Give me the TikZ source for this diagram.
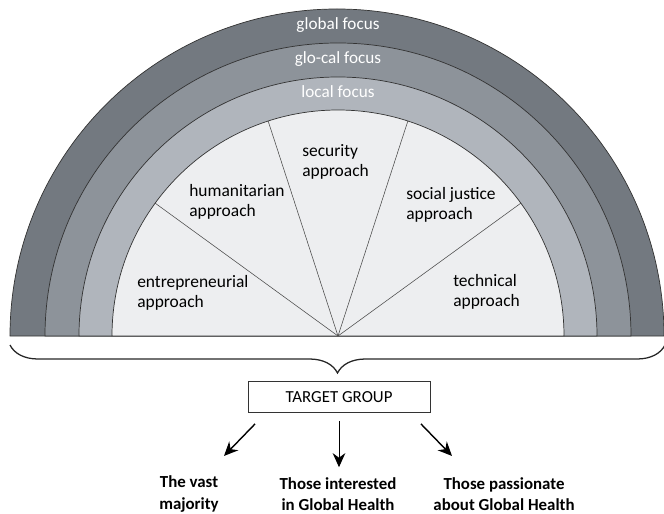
\documentclass[tikz,border=0pt]{standalone}
\usepackage{fontspec}
\setmainfont{Carlito}
\usetikzlibrary{
arrows.meta,
calc,
decorations.pathreplacing,
positioning
}
\definecolor{ringglobal}{RGB}{115,121,128}
\definecolor{ringglocal}{RGB}{141,147,154}
\definecolor{ringlocal}{RGB}{176,181,188}
\definecolor{ringinner}{RGB}{237,238,240}
\tikzset{
ring/.style={draw=black!80, line width=0.5pt},
ringlabel/.style={text=white, font=\fontsize{12.2}{14}\selectfont, inner sep=0pt}
}

\begin{document}
\begin{tikzpicture}
[x=0.025cm, y=0.025cm,
approach/.style ={align=left, anchor=west, inner sep=0pt, text=black, font=\fontsize{12.4}{14.4}\selectfont},
group/.style ={rectangle, draw=black!80, line width=0.5pt, minimum width=4.55cm, minimum height=0.78cm, font=\fontsize{12}{14}\selectfont},
audience/.style ={align=center, inner sep=0pt, font=\bfseries\fontsize{12}{15}\selectfont},
spoke/.style ={draw=black!70, line width=0.4pt},
pfeil/.style ={draw, line width=1pt, -{Stealth[length=10pt,width=9pt]}}]

\useasboundingbox (-338,-177) rectangle (326,336);

%Ringe
\draw [ring, fill=ringglobal] (-328,0) arc[start angle=180, end angle=0, radius=327] -- cycle;
\draw [ring, fill=ringglocal] (-293,0) arc[start angle=180, end angle=0, radius=293] -- cycle;
\draw [ring, fill=ringlocal] (-259,0) arc[start angle=180, end angle=0, radius=259] -- cycle;
\draw [ring, fill=ringinner] (-226,0) arc[start angle=180, end angle=0, radius=226] -- cycle;

\coordinate (mitte) at (0,0);

%Speichen
\foreach \w in {36,72,108,144}
  \draw [spoke] (mitte) -- (\w:226);

%Beschriftung Ringe
\node [ringlabel] (global) at (0,311) {global focus};
\node [ringlabel] (glocal) at (0,277) {glo-cal focus};
\node [ringlabel] (local) at (0,244) {local focus};

%Ansaetze
\node [approach] (entre) at (-201,43) {entrepreneurial\\approach};
\node [approach] (human) at (-149,134) {humanitarian\\approach};
\node [approach] (secur) at (-36,174) {security\\approach};
\node [approach] (social) at (68,131) {social justice\\approach};
\node [approach] (techn) at (115,44) {technical\\approach};

%Klammer
\coordinate (klammer_l) at (-328,-9);
\coordinate (klammer_r) at (327,-9);
\draw [line width=0.9pt, black!85, decorate, decoration={brace, mirror, amplitude=0.7cm}] (klammer_l) -- (klammer_r);

%Zielgruppe
\node [group] (target) at (1,-61) {TARGET GROUP};

\node [audience] (vast) at (-149,-158) {The vast\\majority};
\node [audience] (interest) at (0,-158) {Those interested\\in Global Health};
\node [audience] (passion) at (166,-158) {Those passionate\\about Global Health};

%Pfeile Zielgruppe
\draw [pfeil] (target.south) ++(-84,-11) -- ++(-31,-32);
\draw [pfeil, line width=0.7pt, shorten <=0.2cm, shorten >=0.25cm] (target.south) -- (target.south |- interest.north);
\draw [pfeil] (target.south) ++(82,-11) -- ++(31,-32);

\end{tikzpicture}
\end{document}
